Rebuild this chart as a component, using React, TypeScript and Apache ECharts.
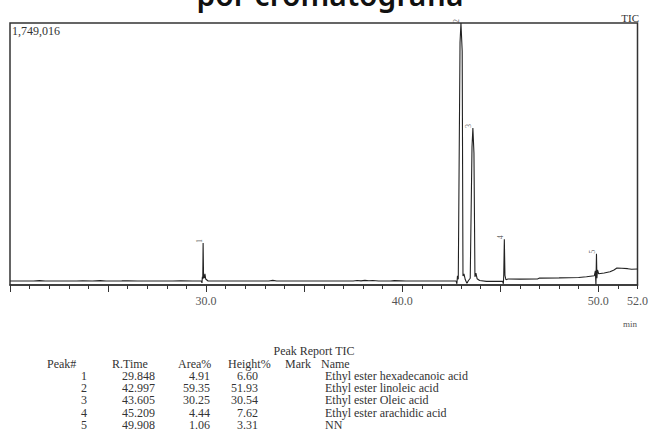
import React, { useEffect, useRef } from "react";
import * as echarts from "echarts";

// ---- Chromatogram trace (retention time in min, TIC counts) ----
const traceTime = [
  20.0, 20.6, 21.2, 21.5, 21.8, 22.6, 23.4, 23.7, 24.2, 24.6, 24.9, 25.7, 26.0, 26.5, 27.4, 28.3, 28.7, 29.3,
  29.75, 29.79, 29.81, 29.83, 29.848, 29.87, 29.9, 29.94, 29.98, 30.1, 31.0, 32.0, 33.2, 33.4, 33.6, 34.6, 35.6,
  36.6, 37.5, 37.7, 37.9, 38.1, 38.3, 38.5, 38.8, 39.4, 39.6, 40.2, 41.0, 42.0, 42.75, 42.79, 42.82, 42.86,
  42.95, 42.997, 43.06, 43.1, 43.15, 43.22, 43.3, 43.38, 43.47, 43.56, 43.605, 43.66, 43.71, 43.76, 43.82,
  43.95, 44.3, 44.8, 45.12, 45.16, 45.18, 45.209, 45.24, 45.29, 45.4, 46.0, 46.9, 47.0, 48.0, 49.0, 49.4, 49.8,
  49.85, 49.88, 49.908, 49.93, 49.96, 50.02, 50.3, 50.6, 50.8, 50.95, 51.2, 51.5, 51.7, 52.0,
];
const traceCounts = [
  26500, 27200, 26800, 29500, 26600, 27000, 26500, 28800, 26700, 29000, 26600, 27500, 28500, 26600, 27200, 26500, 27800, 26700,
  26500, 14000, 55000, 40000, 280000, 60000, 45000, 75000, 40000, 27000, 26600, 26900, 27000, 31000, 26800, 26500, 27000,
  26600, 27200, 30000, 27500, 31000, 28000, 30500, 27000, 26800, 29000, 26700, 26500, 26800, 26500, 8000, 62000, 38000,
  1620000, 1749016, 1560000, 60000, 75000, 35000, 12000, 30000, 45000, 920000, 1048000, 880000, 55000, 80000, 42000,
  30000, 24500, 24000, 25000, 8000, 70000, 305000, 65000, 35000, 40000, 39500, 40500, 46000, 47500, 50000, 55000, 62000,
  95000, 2000, 208000, 45000, 100000, 75000, 80000, 88000, 100000, 113000, 112000, 109000, 105000, 107000,
];

// ---- Peak report ----
const peakNums = ["1", "2", "3", "4", "5"];
const rTimes = ["29.848", "42.997", "43.605", "45.209", "49.908"];
const areaPct = ["4.91", "59.35", "30.25", "4.44", "1.06"];
const heightPct = ["6.60", "51.93", "30.54", "7.62", "3.31"];
const peakNames = [
  "Ethyl ester hexadecanoic acid",
  "Ethyl ester linoleic acid",
  "Ethyl ester Oleic acid",
  "Ethyl ester arachidic acid",
  "NN",
];
const peakTops = [280000, 1749016, 1048000, 305000, 208000];

// ---- Axis ticks / labels ----
const xLabelValues = [30, 40, 50, 52];
const majorTicks = [20, 25, 30, 35, 40, 45, 50];
const minorTicks = [21, 22, 23, 24, 26, 27, 28, 29, 31, 32, 33, 34, 36, 37, 38, 39, 41, 42, 43, 44, 46, 47, 48, 49, 51, 52];
const fullScale = 1749016;

const SERIF = "'Liberation Serif', 'DejaVu Serif', serif";

export default function App() {
  const ref = useRef<HTMLDivElement>(null);
  useEffect(() => {
    document.body.style.margin = "0";
    if (!ref.current) return;
    const chart = echarts.init(ref.current, null, { renderer: "svg" });

    const tableFont = 12;
    const colRight = [87, 155, 210, 258];
    const headY = 363.5;
    const rowY0 = 376;
    const rowStep = 12.2;
    const txt = (text: string, x: number, y: number, align: string, size = tableFont, extra: any = {}) => ({
      type: "text",
      x,
      y,
      silent: true,
      style: {
        text,
        fontFamily: SERIF,
        fontSize: size,
        lineHeight: Math.min(size, 12),
        fill: "#333",
        textAlign: align,
        textVerticalAlign: "middle",
        ...extra,
      },
    });

    const graphics: any[] = [
      {
        type: "text",
        x: 330,
        y: -6,
        style: {
          text: "por cromatografia",
          fontFamily: "'Noto Sans', 'Open Sans', sans-serif",
          fontSize: 30,
          fontWeight: 600,
          fill: "#111",
          textAlign: "center",
          textVerticalAlign: "middle",
        },
      },
      txt("TIC", 639, 18, "right", 11),
      txt(fullScale.toLocaleString("en-US"), 12, 31, "left", 12),
      txt("min", 630, 324, "center", 9, { fill: "#555" }),
      txt("Peak Report TIC", 314, 351, "center"),
      txt("Peak#", 47, headY, "left"),
      txt("R.Time", 112, headY, "left"),
      txt("Area%", 178, headY, "left"),
      txt("Height%", 228, headY, "left"),
      txt("Mark", 285, headY, "left"),
      txt("Name", 321, headY, "left"),
    ];
    const cols = [peakNums, rTimes, areaPct, heightPct];
    for (let i = 0; i < peakNums.length; i++) {
      const y = rowY0 + i * rowStep;
      cols.forEach((col, c) => graphics.push(txt(col[i], colRight[c], y, "right")));
      graphics.push(txt(peakNames[i], 325, y, "left"));
    }

    chart.setOption({
      animation: false,
      backgroundColor: "#fff",
      grid: { left: 10, right: 11, top: 23, bottom: 159, show: true, borderColor: "#333", borderWidth: 1.5 },
      xAxis: [
        {
          type: "value",
          min: 20,
          max: 52,
          axisLine: { lineStyle: { color: "#333", width: 1.5 } },
          axisTick: { customValues: majorTicks, length: 7, lineStyle: { color: "#333" } },
          splitLine: { show: false },
          axisLabel: {
            customValues: xLabelValues,
            formatter: (v: number) => v.toFixed(1),
            fontFamily: SERIF,
            fontSize: 12,
            color: "#555",
            margin: 10,
          },
        },
        {
          type: "value",
          min: 20,
          max: 52,
          position: "bottom",
          axisLine: { show: false },
          axisTick: { customValues: minorTicks, length: 4, lineStyle: { color: "#333" } },
          axisLabel: { show: false },
          splitLine: { show: false },
        },
      ],
      yAxis: { type: "value", min: 0, max: fullScale, show: false, splitLine: { show: false } },
      series: [
        {
          type: "line",
          xAxisIndex: 0,
          data: traceTime.map((t, i) => [t, traceCounts[i]]),
          showSymbol: false,
          symbol: "none",
          lineStyle: { color: "#222", width: 1.1 },
        },
        {
          type: "scatter",
          xAxisIndex: 0,
          symbolSize: 0,
          data: rTimes.map((t, i) => ({ value: [parseFloat(t), peakTops[i]], name: peakNums[i] })),
          label: {
            show: true,
            formatter: (p: any) => p.name,
            position: "top",
            distance: 2,
            rotate: 90,
            fontSize: 8,
            fontFamily: SERIF,
            color: "#444",
          },
        },
      ],
      graphic: graphics,
    });
    return () => chart.dispose();
  }, []);
  return <div ref={ref} style={{ position: "absolute", left: 0, top: 0, width: 651, height: 444 }} />;
}
